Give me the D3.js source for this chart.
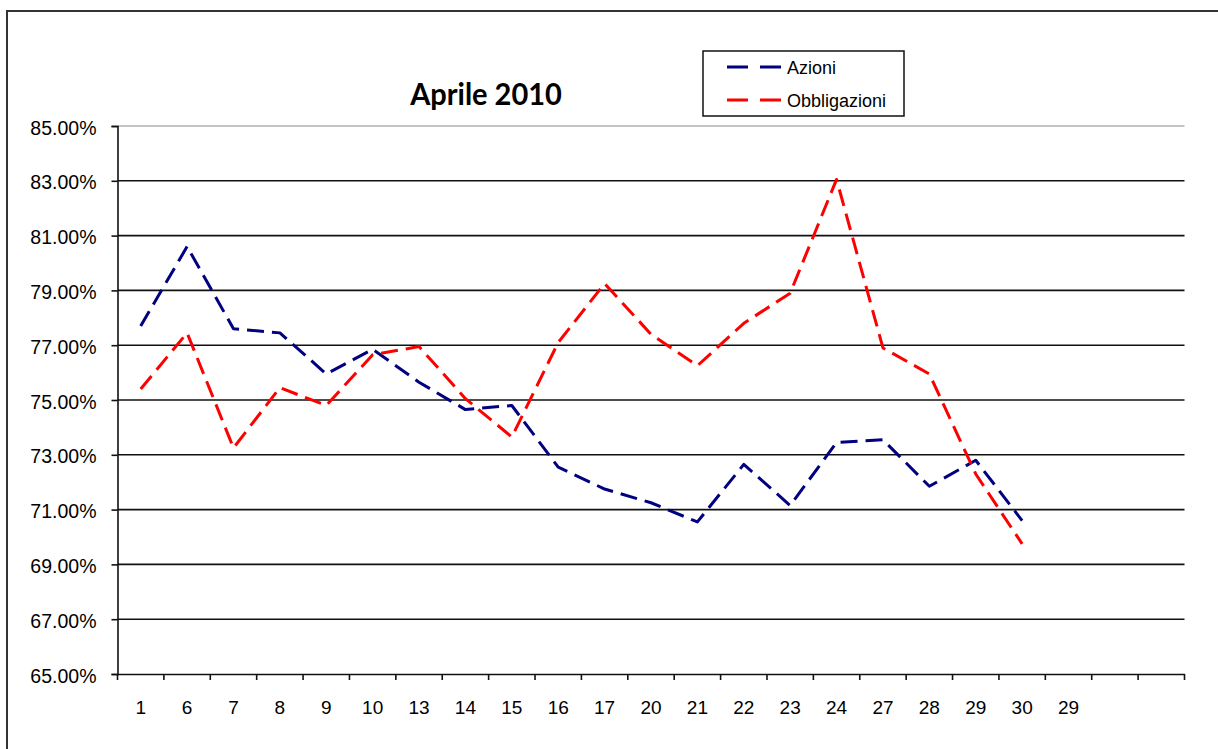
<!DOCTYPE html>
<html>
<head>
<meta charset="utf-8">
<script src="https://cdn.jsdelivr.net/npm/d3@7"></script>
<style>
  body { margin: 0; background: #fff; }
  svg { display: block; }
</style>
</head>
<body>
<script>
// Data
const days = ["1", "6", "7", "8", "9", "10", "13", "14", "15", "16", "17", "20",
  "21", "22", "23", "24", "27", "28", "29", "30", "29", "", ""];
const azioni = [77.7, 80.6, 77.6, 77.45, 75.95, 76.85, 75.65, 74.65, 74.8, 72.55,
  71.75, 71.25, 70.55, 72.65, 71.15, 73.45, 73.55, 71.85, 72.8, 70.6, null, null, null];
const obbligazioni = [75.4, 77.45, 73.25, 75.45, 74.8, 76.65, 76.95, 75.05, 73.65, 77.1,
  79.25, 77.4, 76.25, 77.8, 78.9, 83.05, 76.9, 75.95, 72.3, 69.75, null, null, null];
const yTicks = [65, 67, 69, 71, 73, 75, 77, 79, 81, 83, 85];
const seriesNames = ["Azioni", "Obbligazioni"];
const seriesColors = ["#000080", "#ff0000"];

const W = 1218, H = 749;
const plot = { left: 117.5, right: 1184.5, top: 126, bottom: 674 };
const labelFont = "'Liberation Sans', Arial, sans-serif";

const svg = d3.select("body").append("svg")
  .attr("width", W)
  .attr("height", H);

// outer chart frame (runs off the right and bottom edge)
svg.append("rect")
  .attr("x", 7).attr("y", 11)
  .attr("width", W + 20).attr("height", H + 20)
  .attr("fill", "#fff")
  .attr("stroke", "#333")
  .attr("stroke-width", 2);

// scales
const x = d3.scaleBand()
  .domain(d3.range(days.length))
  .range([plot.left, plot.right]);

const y = d3.scaleLinear()
  .domain([65, 85])
  .range([plot.bottom, plot.top]);

// grid lines
svg.append("g")
  .selectAll("line")
  .data(yTicks.filter((d) => d > 65))
  .enter()
  .append("line")
  .attr("x1", plot.left)
  .attr("x2", plot.right)
  .attr("y1", (d) => y(d))
  .attr("y2", (d) => y(d))
  .attr("stroke", (d) => (d === 85 ? "#c4c4c4" : "#111"))
  .attr("stroke-width", (d) => (d === 85 ? 2 : 1.6));

// y axis
const yAxis = d3.axisLeft(y)
  .tickValues(yTicks)
  .tickSize(6)
  .tickPadding(0)
  .tickFormat((d) => d.toFixed(2) + "%");

const gy = svg.append("g")
  .attr("transform", `translate(${plot.left},0)`)
  .call(yAxis);

gy.select(".domain").attr("stroke", "#111").attr("stroke-width", 1.6);
gy.selectAll(".tick line").attr("stroke", "#111").attr("stroke-width", 1.6);
gy.selectAll(".tick text")
  .attr("x", -21).attr("dy", null).attr("y", 8)
  .style("font-family", labelFont)
  .style("font-size", "19.5px")
  .attr("fill", "#000");

// x axis: ticks on the band edges
const xAxis = d3.axisBottom(x)
  .tickSize(0)
  .tickPadding(0)
  .tickFormat((i) => days[i]);

const gx = svg.append("g")
  .attr("transform", `translate(0,${plot.bottom})`)
  .call(xAxis);

gx.select(".domain").attr("stroke", "#111").attr("stroke-width", 1.6);
gx.selectAll(".tick text")
  .attr("y", 40).attr("dy", null)
  .style("font-family", labelFont)
  .style("font-size", "19px")
  .attr("fill", "#000");

gx.append("g")
  .selectAll("line")
  .data(d3.range(days.length + 1))
  .enter()
  .append("line")
  .attr("x1", (i) => plot.left + i * x.step())
  .attr("x2", (i) => plot.left + i * x.step())
  .attr("y1", 0)
  .attr("y2", 6)
  .attr("stroke", "#111")
  .attr("stroke-width", 1.6);

// series lines
const line = d3.line()
  .defined((d) => d != null)
  .x((d, i) => x(i) + x.bandwidth() / 2)
  .y((d) => y(d));

[azioni, obbligazioni].forEach((values, k) => {
  svg.append("path")
    .datum(values)
    .attr("fill", "none")
    .attr("stroke", seriesColors[k])
    .attr("stroke-width", 3)
    .attr("stroke-dasharray", "17,8")
    .attr("stroke-linejoin", "round")
    .attr("d", line);
});

// title
svg.append("text")
  .attr("transform", `translate(486,105) scale(1,1.08)`)
  .attr("text-anchor", "middle")
  .style("font-family", "Lato, 'Open Sans', sans-serif")
  .style("font-weight", "bold")
  .style("font-size", "29px")
  .text("Aprile 2010");

// legend
const legend = svg.append("g").attr("id", "legend");

legend.append("rect")
  .attr("x", 703).attr("y", 51)
  .attr("width", 201).attr("height", 65)
  .attr("fill", "#fff")
  .attr("stroke", "#111")
  .attr("stroke-width", 1.5);

const legendRows = legend.selectAll(".row")
  .data(seriesNames)
  .enter()
  .append("g")
  .attr("class", "row")
  .attr("transform", (d, i) => `translate(0,${67 + i * 33})`);

legendRows.append("line")
  .attr("x1", 727).attr("x2", 781)
  .attr("stroke", (d, i) => seriesColors[i])
  .attr("stroke-width", 3)
  .attr("stroke-dasharray", "21,12");

legendRows.append("text")
  .attr("x", 787).attr("y", 7)
  .style("font-family", labelFont)
  .style("font-size", "18px")
  .text((d) => d);
</script>
</body>
</html>
